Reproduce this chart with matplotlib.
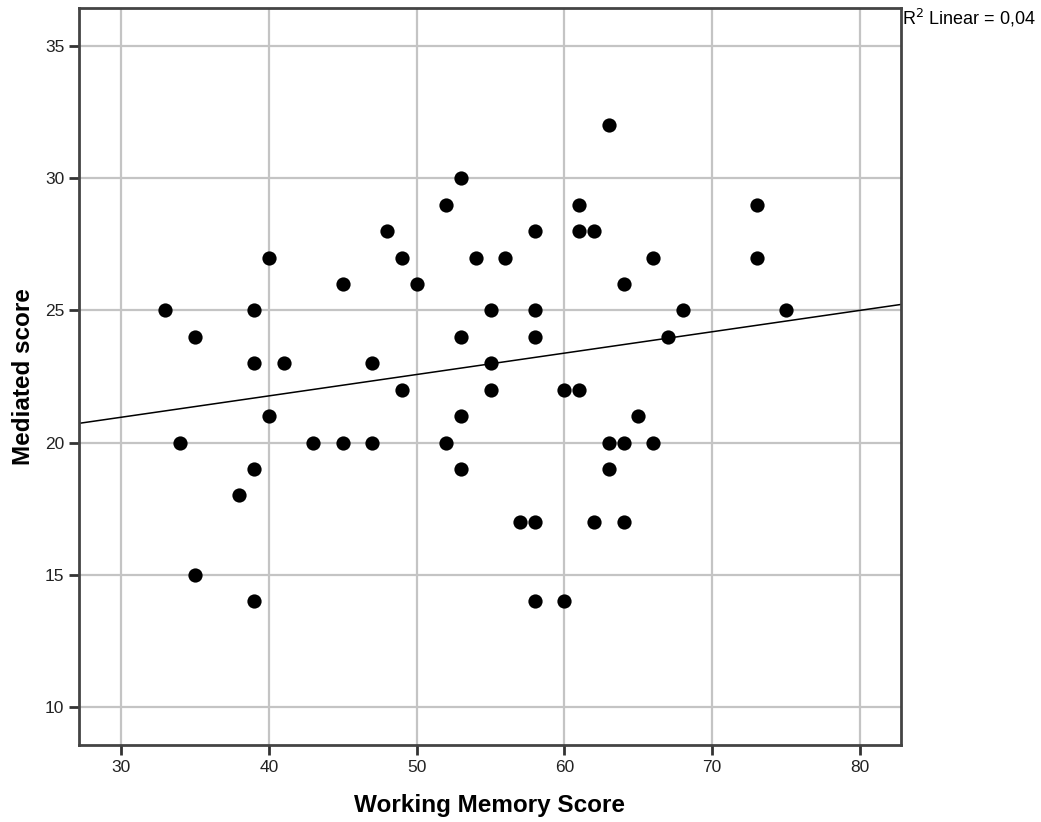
import numpy as np
import matplotlib.pyplot as plt

plt.rcParams['font.family'] = ['Liberation Sans', 'DejaVu Sans']

# Данные: рабочая память и опосредованный балл
wm_score = [33, 34, 35, 35, 38, 39, 39, 39, 39, 40, 40, 41, 43, 45, 45, 47, 47,
            48, 49, 49, 50, 52, 52, 53, 53, 53, 53, 54, 55, 55, 55, 56, 57, 58,
            58, 58, 58, 58, 60, 60, 61, 61, 61, 62, 62, 63, 63, 63, 64, 64, 64,
            65, 66, 66, 67, 68, 73, 73, 75]
mediated = [25, 20, 24, 15, 18, 25, 23, 19, 14, 27, 21, 23, 20, 26, 20, 23, 20,
            28, 27, 22, 26, 29, 20, 30, 24, 21, 19, 27, 25, 23, 22, 27, 17, 28,
            25, 24, 17, 14, 22, 14, 29, 28, 22, 28, 17, 32, 20, 19, 26, 20, 17,
            21, 27, 20, 24, 25, 29, 27, 25]

x_ticks = [30, 40, 50, 60, 70, 80]
y_ticks = [10, 15, 20, 25, 30, 35]

x = np.array(wm_score)
y = np.array(mediated)
slope, intercept = np.polyfit(x, y, 1)

fig = plt.figure(figsize=(10.41, 8.22), dpi=100)
ax = fig.add_axes([0.0759, 0.0937, 0.7896, 0.8966])

xlim = (27.16, 82.77)
ylim = (8.56, 36.44)
ax.set_xlim(*xlim)
ax.set_ylim(*ylim)

ax.grid(True, color='#c4c4c4', linewidth=1.6, zorder=0)
ax.set_axisbelow(True)

ax.scatter(x, y, s=105, color='black', zorder=3, linewidths=0)

# линия регрессии
lx = np.array(xlim)
ax.plot(lx, intercept + slope * lx, color='black', linewidth=1.1, zorder=2)

ax.set_xticks(x_ticks)
ax.set_yticks(y_ticks)
ax.tick_params(direction='out', length=7.5, width=2, color='#333333', pad=3,
               labelsize=12.5, labelcolor='#222222')
for sp in ax.spines.values():
    sp.set_linewidth(2)
    sp.set_color('#444444')

ax.set_xlabel('Working Memory Score', fontsize=17.5, fontweight='bold', labelpad=14)
ax.set_ylabel('Mediated score', fontsize=17.5, fontweight='bold', labelpad=7)

fig.text(0.866, 0.978, 'R$^2$ Linear = 0,04', fontsize=13, ha='left', va='center')

fig.savefig('out.png', dpi=100)
